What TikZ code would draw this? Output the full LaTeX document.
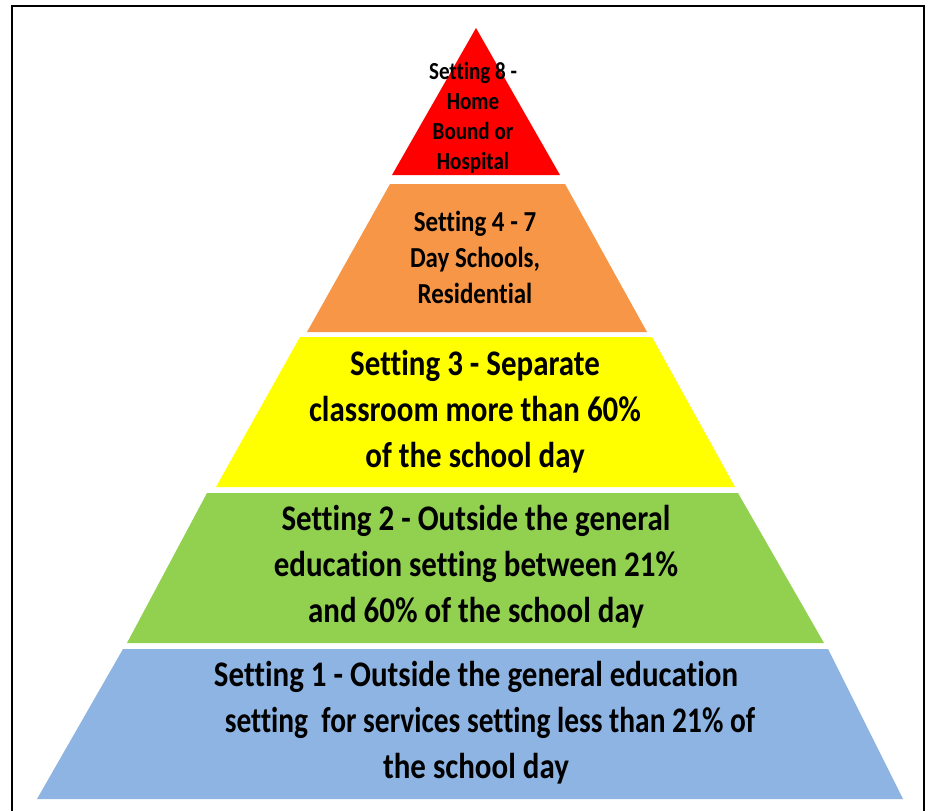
\documentclass[tikz,border=0pt]{standalone}
\usepackage{fontspec}
\setmainfont{Carlito}[FakeStretch=0.86, Ligatures=NoCommon]
\definecolor{lvred}{HTML}{FF0000}
\definecolor{lvorange}{HTML}{F79646}
\definecolor{lvyellow}{HTML}{FFFF00}
\definecolor{lvgreen}{HTML}{92D050}
\definecolor{lvblue}{HTML}{8EB4E3}
\begin{document}
\begin{tikzpicture}[x=1pt,y=-1pt,
  lbl/.style={align=center, text=black, inner sep=0pt},
  bigtxt/.style={lbl, font=\fontsize{36}{46}\selectfont\bfseries},
  midtxt/.style={lbl, font=\fontsize{29}{36}\selectfont\bfseries},
  smalltxt/.style={lbl, font=\fontsize{24.5}{30}\selectfont\bfseries},
  frame/.style={line width=2pt, draw=black}]
\useasboundingbox (0,0) rectangle (929,811);
\fill[white] (0,0) rectangle (929,811);
\draw[frame] (12,820) -- (12,6) -- (924,6) -- (924,820);
% layers
\fill[lvred] (476,28) -- (560,175) -- (392,175) -- cycle;
\fill[lvorange] (390,184) -- (565,184) -- (647,332) -- (307,332) -- cycle;
\fill[lvyellow] (300,337) -- (652,337) -- (735,487) -- (216,487) -- cycle;
\fill[lvgreen] (207,493) -- (738,493) -- (824,643) -- (127,643) -- cycle;
\fill[lvblue] (123,649) -- (828,649) -- (903,799) -- (37,799) -- cycle;
% labels
\node[smalltxt] (t8) at (473,118) {Setting 8 -\\Home\\Bound or\\Hospital};
\node[midtxt] (t47) at (475,257) {Setting 4 - 7\\Day Schools,\\Residential};
\node[bigtxt] (t3) at (475,412) {Setting 3 - Separate\\classroom more than 60\%\\of the school day};
\node[bigtxt] (t2) at (476,567) {Setting 2 - Outside the general\\education setting between 21\%\\and 60\% of the school day};
\node[bigtxt] (t1) at (476,723) {Setting 1 - Outside the general education\\\hspace*{28pt}\scalebox{0.95}[1]{setting\ \ for services setting less than 21\% of}\\the school day};
\end{tikzpicture}
\end{document}
